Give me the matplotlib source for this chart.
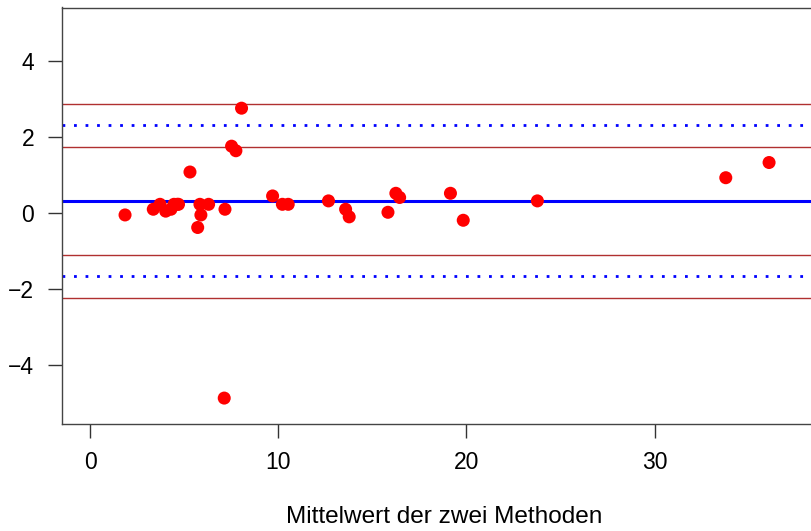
import matplotlib
matplotlib.use("Agg")
import matplotlib.pyplot as plt

plt.rcParams['font.family'] = ['Liberation Sans', 'DejaVu Sans']

# Data
mittelwert = [1.86, 3.36, 3.72, 4.02, 4.30, 4.46, 4.63, 4.70, 5.31, 5.84, 5.89, 5.72,
              6.30, 7.17, 7.13, 7.52, 7.75, 8.05, 9.70, 10.22, 10.53, 12.67, 13.58,
              13.77, 15.83, 16.25, 16.45, 19.15, 19.83, 23.77, 33.78, 36.08]
differenz = [-0.05, 0.10, 0.23, 0.05, 0.10, 0.23, 0.23, 0.23, 1.08, 0.23, -0.05, -0.38,
             0.23, 0.10, -4.87, 1.76, 1.64, 2.76, 0.45, 0.23, 0.23, 0.32, 0.10,
             -0.10, 0.02, 0.52, 0.41, 0.52, -0.19, 0.32, 0.93, 1.33]

mean_diff = 0.316
loa_upper = 2.31
loa_lower = -1.66
ci_lines = [2.88, 1.74, -1.105, -2.245]

xticks = [0, 10, 20, 30]
yticks = [-4, -2, 0, 2, 4]
xlabel = "Mittelwert der zwei Methoden"

fig = plt.figure(figsize=(8.11, 5.31), dpi=100)
ax = fig.add_axes([62/811, 1-424.3/531, 1.02 - 62/811, (424.3-7.5)/531])

x_left = -1.49
px_per_unit = 18.82
x_right = x_left + (1.02 - 62/811) * 811 / px_per_unit
ax.set_xlim(x_left, x_right)
ax.set_ylim(-5.56, 5.41)

for v in ci_lines:
    ax.axhline(v, color='#B03030', lw=1.0, zorder=1)
ax.axhline(loa_upper, color='blue', lw=2.0, linestyle=(0, (1, 3.15)),
           dash_capstyle='butt', zorder=2)
ax.axhline(loa_lower, color='blue', lw=2.0, linestyle=(0, (1, 3.15)),
           dash_capstyle='butt', zorder=2)
ax.axhline(mean_diff, color='blue', lw=2.2, zorder=2)

ax.scatter(mittelwert, differenz, s=88, color='red', edgecolors='none', zorder=3)

ax.set_xticks(xticks)
ax.set_yticks(yticks)
ax.tick_params(axis='both', direction='out', length=10, width=1.0,
               labelsize=16.5, color='#333333')
ax.tick_params(axis='x', pad=9)
ax.tick_params(axis='y', pad=10)
for s in ax.spines.values():
    s.set_color('#444444')
    s.set_linewidth(1.0)

ax.set_xlabel(xlabel, fontsize=17.6, labelpad=23)

fig.savefig("out.png", dpi=100)
